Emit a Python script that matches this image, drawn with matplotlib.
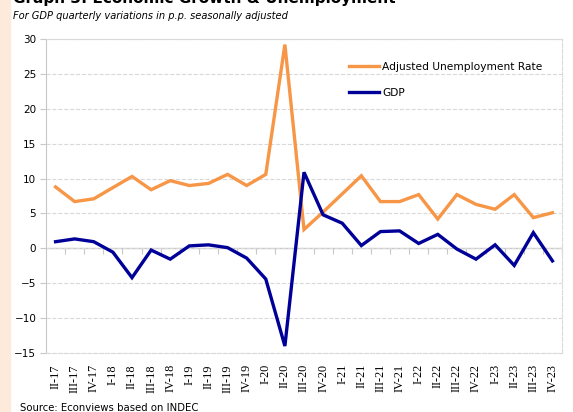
import matplotlib
matplotlib.use('Agg')
import matplotlib.pyplot as plt
from matplotlib.patches import Rectangle
import numpy as np

quarters = ['II-17', 'III-17', 'IV-17', 'I-18', 'II-18', 'III-18', 'IV-18',
            'I-19', 'II-19', 'III-19', 'IV-19', 'I-20', 'II-20', 'III-20',
            'IV-20', 'I-21', 'II-21', 'III-21', 'IV-21', 'I-22', 'II-22',
            'III-22', 'IV-22', 'I-23', 'II-23', 'III-23', 'IV-23']

unemployment = [8.8, 6.7, 7.1, 8.7, 10.3, 8.4, 9.7, 9.0, 9.3, 10.6, 9.0, 10.6,
                29.2, 2.7, 5.2, 7.8, 10.4, 6.7, 6.7, 7.7, 4.2, 7.7, 6.3, 5.6,
                7.7, 4.4, 5.1]

gdp = [0.95, 1.35, 0.95, -0.55, -4.2, -0.25, -1.55, 0.35, 0.5, 0.1, -1.4, -4.4,
       -14.0, 10.9, 4.8, 3.6, 0.4, 2.4, 2.5, 0.7, 2.0, -0.1, -1.55, 0.5,
       -2.45, 2.25, -1.8]

orange = '#F79646'
navy = '#000099'
grey = '#c8c8c8'

fig = plt.figure(figsize=(5.73, 4.12), dpi=100)
fig.patches.append(Rectangle((0, 0), 10 / 573, 1, transform=fig.transFigure,
                             color='#FDEADA', zorder=0))

ax = fig.add_axes([46 / 573, 1 - 353 / 412, 516 / 573, 314 / 412])
x = np.arange(len(quarters))
ax.plot(x, unemployment, color=orange, lw=2.4, label='Adjusted Unemployment Rate',
        solid_joinstyle='miter', zorder=3)
ax.plot(x, gdp, color=navy, lw=2.4, label='GDP', solid_joinstyle='miter', zorder=3)

ax.set_xlim(-0.5, len(quarters) - 0.5)
ax.set_ylim(-15, 30)
ax.set_yticks(range(-15, 31, 5))
ax.yaxis.grid(True, color='#d9d9d9', ls='--', lw=0.8)
ax.axhline(0, color=grey, lw=1, zorder=1)

ax.set_xticks(x)
ax.set_xticklabels(quarters, rotation=90, fontfamily='Liberation Serif', fontsize=8.8)
ax.tick_params(axis='x', length=0, pad=8)
ax.tick_params(axis='y', length=4, color=grey, labelsize=7.5, pad=3)

ax.spines['left'].set_color(grey)
ax.spines['top'].set_color('#d9d9d9')
ax.spines['right'].set_color('#d9d9d9')
ax.spines['right'].set_linestyle('--')
ax.spines['bottom'].set_color('#d9d9d9')
ax.spines['bottom'].set_linestyle('--')

# small ticks on the zero line between the quarters
sec = ax.secondary_xaxis(1 / 3)
sec.set_xticks(np.arange(len(quarters)) + 0.5)
sec.set_xticklabels([])
sec.tick_params(length=4, color=grey, direction='out')
sec.spines['bottom'].set_visible(False)

leg = ax.legend(loc='upper left', bbox_to_anchor=(339 / 573, 1 - 52 / 412),
                bbox_transform=fig.transFigure, frameon=False, fontsize=7.7,
                handlelength=2.8, labelspacing=1.55, handletextpad=0.35)

fig.text(13 / 573, 1 - 3 / 412, 'Graph 3: Economic Growth & Unemployment',
         fontsize=11, fontweight='bold', va='baseline', ha='left')
fig.text(13 / 573, 1 - 19 / 412, 'For GDP quarterly variations in p.p. seasonally adjusted',
         fontsize=7.1, style='italic', va='baseline', ha='left')
fig.text(20 / 573, 1 - 403 / 412, 'Source: Econviews based on INDEC',
         fontsize=7.3, va='top', ha='left')

fig.savefig('out.png', dpi=100)
